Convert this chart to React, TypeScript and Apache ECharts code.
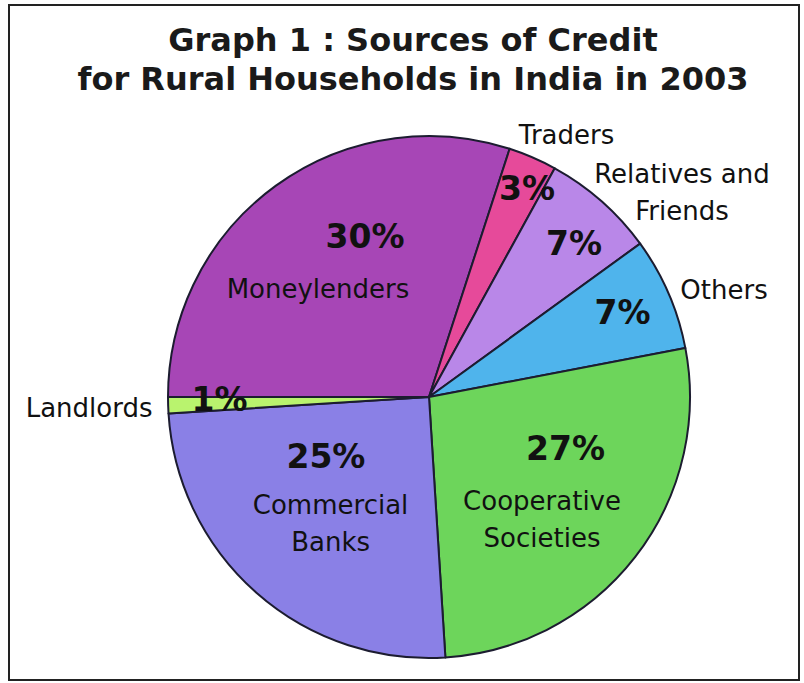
import { useEffect, useRef } from 'react';
import * as echarts from 'echarts';

const TITLE_LINES = ['Graph 1 : Sources of Credit', 'for Rural Households in India in 2003'];
const CATEGORIES = [
  'Moneylenders',
  'Traders',
  'Relatives and Friends',
  'Others',
  'Cooperative Societies',
  'Commercial Banks',
  'Landlords',
];
const LABEL_TEXT = [
  'Moneylenders',
  'Traders',
  'Relatives and\nFriends',
  'Others',
  'Cooperative\nSocieties',
  'Commercial\nBanks',
  'Landlords',
];
const SHARES = [30, 3, 7, 7, 27, 25, 1];
const COLORS = ['#a746b6', '#e64a9a', '#b987e8', '#4fb4ec', '#6dd55b', '#8a80e6', '#b9f36e'];

// layout (styling, not data)
const CX = 429;
const CY = 397;
const R = 261;
const START = 180;
// [radius from centre, angle offset from slice mid-angle]
const PCT_POS = [
  [172.8, -14.3],
  [230.4, -1.8],
  [211.2, -2.0],
  [211.1, 0.2],
  [145.9, 17.1],
  [119, -18.6],
  [209.5, -1.1],
];
const NAME_POS = [
  [154.9, 9.8],
  [295.9, -4.3],
  [325.3, -9.65],
  [313.8, -3.5],
  [166.7, -9.5],
  [159.9, 3.4],
  [340.1, 0.1],
];

function midAngles(vals: number[]) {
  const total = vals.reduce((a, b) => a + b, 0);
  let acc = 0;
  return vals.map((v) => {
    const a0 = START - (acc / total) * 360;
    acc += v;
    const a1 = START - (acc / total) * 360;
    return (a0 + a1) / 2;
  });
}

export default function App() {
  const ref = useRef<HTMLDivElement>(null);
  useEffect(() => {
    if (!ref.current) return;
    const chart = echarts.init(ref.current, undefined, { renderer: 'svg' });
    const mids = midAngles(SHARES);
    const place = (table: number[][]) => (p: any) => {
      const [r, d] = table[p.dataIndex];
      const a = ((mids[p.dataIndex] + d) * Math.PI) / 180;
      return { x: CX + r * Math.cos(a), y: CY - r * Math.sin(a), align: 'center', verticalAlign: 'middle' };
    };
    const data = CATEGORIES.map((name, i) => ({
      name,
      value: SHARES[i],
      itemStyle: { color: COLORS[i] },
    }));
    const labelData = CATEGORIES.map((name, i) => ({
      name,
      value: SHARES[i],
      label: { formatter: LABEL_TEXT[i] },
    }));
    chart.setOption({
      animation: false,
      backgroundColor: '#ffffff',
      title: {
        text: TITLE_LINES.join('\n'),
        left: 413,
        top: 20,
        textAlign: 'center',
        padding: 0,
        textStyle: {
          fontFamily: 'DejaVu Sans',
          fontWeight: 'bold',
          fontSize: 32,
          lineHeight: 39,
          color: '#1a1a1a',
        },
      },
      graphic: [
        {
          type: 'rect',
          z: -10,
          shape: { x: 9, y: 5, width: 790, height: 675 },
          style: { fill: 'none', stroke: '#222', lineWidth: 2 },
          silent: true,
        },
      ],
      series: [
        {
          type: 'pie',
          center: [CX, CY],
          radius: R,
          startAngle: START,
          clockwise: true,
          avoidLabelOverlap: false,
          silent: true,
          itemStyle: { borderColor: '#1c1c30', borderWidth: 2 },
          label: {
            show: true,
            position: 'inside',
            formatter: '{c}%',
            fontFamily: 'DejaVu Sans',
            fontWeight: 'bold',
            fontSize: 33,
            color: '#111',
          },
          labelLine: { show: false },
          labelLayout: place(PCT_POS),
          data,
        },
        {
          type: 'pie',
          center: [CX, CY],
          radius: R,
          startAngle: START,
          clockwise: true,
          avoidLabelOverlap: false,
          silent: true,
          itemStyle: { color: 'rgba(0,0,0,0)', borderWidth: 0 },
          label: {
            show: true,
            position: 'inside',
            fontFamily: 'DejaVu Sans',
            fontSize: 26,
            lineHeight: 37,
            color: '#111',
          },
          labelLine: { show: false },
          labelLayout: place(NAME_POS),
          data: labelData,
        },
      ],
    });
    return () => chart.dispose();
  }, []);
  return (
    <div
      ref={ref}
      style={{ position: 'fixed', left: 0, top: 0, width: 804, height: 683, background: '#fff' }}
    />
  );
}
